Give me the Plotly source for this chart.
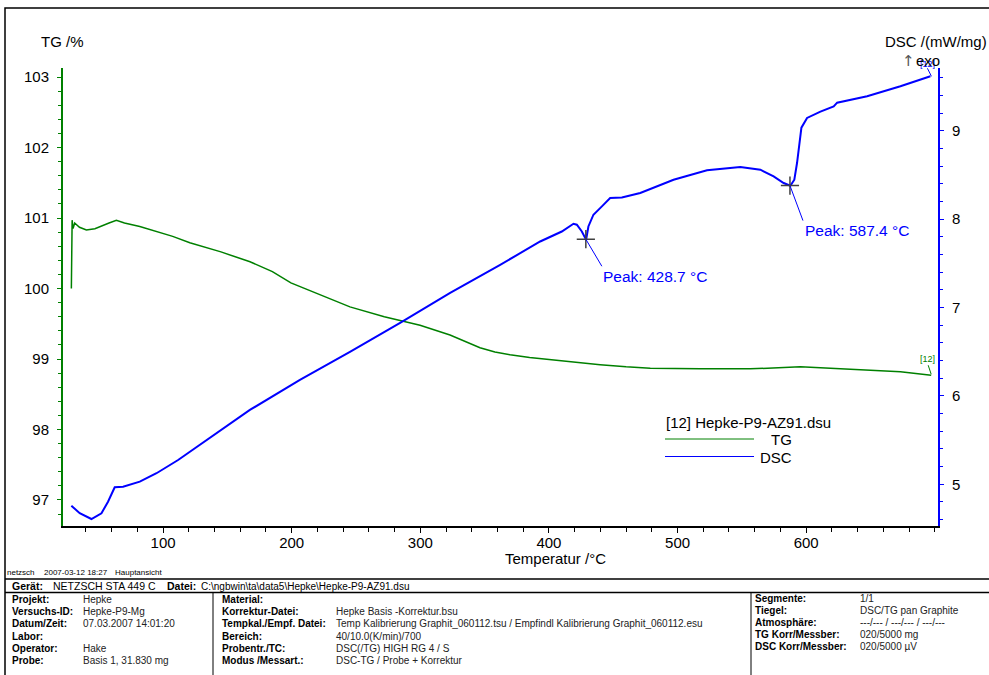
import numpy as np
import plotly.graph_objects as go

# ---------------- data ----------------
tg_temp = [28.7, 29.3, 30.0, 31.3, 35.0, 40.4, 47.0, 53.1, 58.0, 63.7, 70.0, 81.9, 95.0,
           107.5, 120.8, 145.0, 167.6, 185.0, 199.4, 222.0, 245.3, 272.0, 299.8, 323.1,
           335.0, 346.4, 358.0, 369.8, 385.0, 400.2, 420.0, 439.8, 460.0, 478.8, 517.7,
           556.6, 595.5, 634.4, 673.3, 697.2]
tg_values = [100.00, 100.97, 100.85, 100.93, 100.87, 100.83, 100.85, 100.90, 100.93, 100.97,
             100.93, 100.88, 100.81, 100.74, 100.65, 100.52, 100.38, 100.24, 100.08, 99.91,
             99.74, 99.60, 99.48, 99.34, 99.25, 99.16, 99.10, 99.06, 99.02, 98.99, 98.95,
             98.92, 98.89, 98.87, 98.86, 98.86, 98.89, 98.86, 98.82, 98.77]

dsc_temp = [28.7, 35.2, 44.3, 52.1, 57.2, 62.4, 68.9, 81.9, 94.9, 111.7, 167.5, 206.4, 245.3,
            284.3, 323.2, 362.1, 393.2, 410.0, 419.1, 421.7, 425.6, 428.9, 430.7, 434.6,
            441.2, 447.6, 456.7, 471.0, 496.9, 522.9, 548.8, 564.4, 574.7, 582.5, 587.7,
            590.8, 592.9, 594.2, 596.3, 600.7, 611.1, 621.4, 624.1, 647.4, 673.3, 696.6]
dsc_values = [4.758, 4.672, 4.607, 4.672, 4.803, 4.966, 4.973, 5.030, 5.125, 5.275, 5.841,
              6.181, 6.498, 6.826, 7.166, 7.483, 7.747, 7.860, 7.948, 7.937, 7.861, 7.767,
              7.917, 8.050, 8.144, 8.239, 8.246, 8.296, 8.446, 8.552, 8.590, 8.559, 8.484,
              8.409, 8.378, 8.446, 8.635, 8.786, 9.035, 9.145, 9.216, 9.276, 9.318, 9.390,
              9.503, 9.616]

peak_temps = [428.7, 587.4]
peak_labels = ["Peak: 428.7 °C", "Peak: 587.4 °C"]

x_ticks = [100, 200, 300, 400, 500, 600]
tg_ticks = [97, 98, 99, 100, 101, 102, 103]
dsc_ticks = [5, 6, 7, 8, 9]

legend_title = "[12] Hepke-P9-AZ91.dsu"
series_names = ["TG", "DSC"]

info_left = [("Projekt:", "Hepke"), ("Versuchs-ID:", "Hepke-P9-Mg"),
             ("Datum/Zeit:", "07.03.2007 14:01:20"), ("Labor:", ""),
             ("Operator:", "Hake"), ("Probe:", "Basis 1, 31.830 mg")]
info_mid = [("Material:", ""), ("Korrektur-Datei:", "Hepke Basis -Korrektur.bsu"),
            ("Tempkal./Empf. Datei:", "Temp Kalibrierung Graphit_060112.tsu / Empfindl Kalibrierung Graphit_060112.esu"),
            ("Bereich:", "40/10.0(K/min)/700"), ("Probentr./TC:", "DSC(/TG) HIGH RG 4 / S"),
            ("Modus /Messart.:", "DSC-TG / Probe + Korrektur")]
info_right = [("Segmente:", "1/1"), ("Tiegel:", "DSC/TG pan Graphite"),
              ("Atmosphäre:", "---/--- / ---/--- / ---/---"),
              ("TG Korr/Messber:", "020/5000 mg"), ("DSC Korr/Messber:", "020/5000 µV")]

# ---------------- style ----------------
GREEN = "#008000"
BLUE = "#0000FF"
FONT = "Liberation Sans, Arial, sans-serif"
W, H = 989, 675
PL, PR, PT, PB = 63, 938, 68, 526


def px(x):
    return (x - PL) / (PR - PL)


def py(y):
    return (PB - y) / (PB - PT)


fig = go.Figure()
fig.add_trace(go.Scatter(x=tg_temp, y=tg_values, mode="lines", name=series_names[0],
                         line=dict(color=GREEN, width=1.5), yaxis="y", showlegend=False,
                         hoverinfo="skip"))
fig.add_trace(go.Scatter(x=dsc_temp, y=dsc_values, mode="lines", name=series_names[1],
                         line=dict(color=BLUE, width=2), yaxis="y2", showlegend=False,
                         hoverinfo="skip"))

peak_vals = [float(np.interp(t, dsc_temp, dsc_values)) for t in peak_temps]
fig.add_trace(go.Scatter(x=peak_temps, y=peak_vals, mode="markers", yaxis="y2",
                         marker=dict(symbol="cross-thin", size=13,
                                     line=dict(color="#404040", width=1.5)),
                         showlegend=False, hoverinfo="skip"))

shapes = []
annotations = []

# peak leaders + labels
leader = [(16, -27), (13, -35)]
shift = [(15, -37), (13, -45)]
for t, v, lab, (lx, ly), (sx, sy) in zip(peak_temps, peak_vals, peak_labels, leader, shift):
    shapes.append(dict(type="line", xref="x", yref="y2", xsizemode="pixel", ysizemode="pixel",
                       xanchor=t, yanchor=v, x0=0, y0=0, x1=lx, y1=ly,
                       line=dict(color=BLUE, width=1)))
    annotations.append(dict(x=t, y=v, xref="x", yref="y2", text=lab, showarrow=False,
                            xanchor="left", yanchor="middle", xshift=sx, yshift=sy,
                            font=dict(size=15.5, color=BLUE, family=FONT)))

# end labels [12]
for tx, ty, yr, col, tdx, tdy, l0, l1 in [
        (dsc_temp[-1], dsc_values[-1], "y2", BLUE, -3, 12, (-3, 8), (1, 0)),
        (tg_temp[-1], tg_values[-1], "y", GREEN, -4, 16, (-3, 10), (0, 1))]:
    shapes.append(dict(type="line", xref="x", yref=yr, xsizemode="pixel", ysizemode="pixel",
                       xanchor=tx, yanchor=ty, x0=l0[0], y0=l0[1], x1=l1[0], y1=l1[1],
                       line=dict(color=col, width=1)))
    annotations.append(dict(x=tx, y=ty, xref="x", yref=yr, text="[12]", showarrow=False,
                            xanchor="center", yanchor="middle", xshift=tdx, yshift=tdy,
                            font=dict(size=9, color=col, family=FONT)))


def txt(x, y, s, size=10, color="#000", anchor="left", family=FONT):
    annotations.append(dict(x=px(x), y=py(y), xref="paper", yref="paper", text=s,
                            showarrow=False, xanchor=anchor, yanchor="middle",
                            font=dict(size=size, color=color, family=family),
                            borderpad=0, borderwidth=0))


def hline(x0, x1, y, width=1.5, color="#000"):
    shapes.append(dict(type="line", xref="paper", yref="paper", x0=px(x0), x1=px(x1),
                       y0=py(y), y1=py(y), line=dict(color=color, width=width)))


def vline(x, y0, y1, width=1.0, color="#000"):
    shapes.append(dict(type="line", xref="paper", yref="paper", x0=px(x), x1=px(x),
                       y0=py(y0), y1=py(y1), line=dict(color=color, width=width)))


# axis titles
txt(41, 42, "TG /%", 15)
txt(885, 42, "DSC /(mW/mg)", 15)
txt(902, 61, "↑", 15, "#555", family="DejaVu Sans")
txt(916, 61, "exo", 15)
txt(555, 558, "Temperatur /°C", 15, anchor="center")

# legend
txt(666, 422, legend_title, 15)
hline(665, 754, 439, 1, GREEN)
txt(792, 439, series_names[0], 15, anchor="right")
hline(665, 754, 456.5, 1, BLUE)
txt(792, 457, series_names[1], 15, anchor="right")

# outer frame
shapes.append(dict(type="rect", xref="paper", yref="paper", x0=px(5), x1=px(1000),
                   y0=py(8), y1=py(700), line=dict(color="#000", width=1.5)))

# footer
txt(7, 572, "netzsch", 8)
txt(44, 572, "2007-03-12 18:27", 8)
txt(115, 572, "Hauptansicht", 8)
hline(5, 1000, 579)
txt(12, 586, "<b>Gerät:</b>", 10.5)
txt(53, 586, "NETZSCH STA 449 C", 10.5)
txt(167, 586, "<b>Datei:</b>", 10.5)
txt(201, 586, "C:\\ngbwin\\ta\\data5\\Hepke\\Hepke-P9-AZ91.dsu", 10)
hline(5, 1000, 592.5)
vline(213, 592.5, 700)
vline(751, 592.5, 700)

row_y = [599.5, 611.7, 623.9, 636.1, 648.3, 660.5]
for (lab, val), y in zip(info_left, row_y):
    txt(12, y, "<b>" + lab + "</b>", 10)
    if val:
        txt(83, y, val, 10, "#222")
for (lab, val), y in zip(info_mid, row_y):
    txt(222, y, "<b>" + lab + "</b>", 10)
    if val:
        txt(336, y, val, 10, "#222")
row_y_r = [598, 610, 622, 634, 646]
for (lab, val), y in zip(info_right, row_y_r):
    txt(755, y, "<b>" + lab + "</b>", 10)
    txt(860, y, val, 10, "#222")

axis_font = dict(size=15, color="#000", family=FONT)
fig.update_layout(
    width=W, height=H,
    margin=dict(l=PL, r=W - PR, t=PT, b=H - PB, pad=0),
    paper_bgcolor="white", plot_bgcolor="white",
    showlegend=False,
    xaxis=dict(range=[22.2, 702.5], tickmode="array", tickvals=x_ticks,
               ticktext=[str(v) for v in x_ticks], ticks="outside", ticklen=5,
               tickwidth=1.2, tickcolor="#000", showline=True, linecolor="#000",
               linewidth=2, showgrid=False, zeroline=False, tickfont=axis_font,
               ticklabelstandoff=-3,
               minor=dict(ticks="outside", ticklen=4, tickwidth=1.2, tickcolor="#000",
                          tick0=0, dtick=20, showgrid=False)),
    yaxis=dict(range=[96.63, 103.13], tickmode="array", tickvals=tg_ticks,
               ticks="outside", ticklen=4, tickwidth=1.2, tickcolor=GREEN,
               showline=True, linecolor=GREEN, linewidth=2, showgrid=False,
               zeroline=False, tickfont=axis_font, ticklabelstandoff=5,
               minor=dict(ticks="outside", ticklen=3, tickwidth=1.2, tickcolor=GREEN,
                          tick0=0, dtick=0.2, showgrid=False)),
    yaxis2=dict(range=[4.528, 9.71], overlaying="y", side="right", tickmode="array",
                tickvals=dsc_ticks, ticks="outside", ticklen=4, tickwidth=1.2,
                tickcolor=BLUE, showline=True, linecolor=BLUE, linewidth=2,
                showgrid=False, zeroline=False, tickfont=axis_font, ticklabelstandoff=5,
                minor=dict(ticks="outside", ticklen=3, tickwidth=1.2, tickcolor=BLUE,
                           tick0=0, dtick=0.2, showgrid=False)),
    shapes=shapes,
    annotations=annotations,
)

fig.write_html("out.html", config={"displayModeBar": False},
               post_script="document.body.style.margin='0';"
                           "document.body.style.overflow='hidden';")
